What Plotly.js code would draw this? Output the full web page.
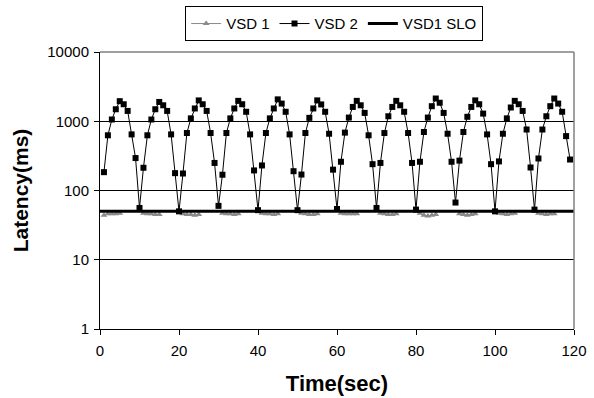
<!DOCTYPE html>
<html>
<head>
<meta charset="utf-8">
<script src="https://cdn.plot.ly/plotly-3.0.1.min.js"></script>
<style>html,body{margin:0;padding:0;background:#fff;}#chart{width:594px;height:398px;}</style>
</head>
<body>
<div id="chart"></div>
<script>
// VSD 2 latency (ms), one value per second, t = 1..119
const vsd2Latency = [
  184, 627, 1060, 1490, 1950, 1760, 1410, 646, 294, 56,
  213, 627, 1060, 1490, 1900, 1700, 1410, 646, 178, 50,
  176, 676, 1100, 1530, 2000, 1760, 1410, 676, 250, 60,
  169, 676, 1100, 1530, 1970, 1760, 1370, 646, 195, 52,
  230, 676, 1100, 1530, 2070, 1800, 1370, 646, 190, 52,
  170, 676, 1120, 1530, 2000, 1750, 1370, 660, 200, 54,
  260, 685, 1130, 1610, 1970, 1700, 1320, 627, 240, 56,
  250, 676, 1180, 1610, 1970, 1700, 1370, 676, 250, 53,
  260, 700, 1130, 1650, 2130, 1850, 1320, 660, 260, 67,
  270, 700, 1160, 1610, 2000, 1760, 1290, 646, 240, 50,
  263, 660, 1100, 1580, 1970, 1760, 1410, 760, 215, 53,
  290, 760, 1180, 1650, 2130, 1800, 1370, 610, 280
];
// VSD 1 latency (ms), same time base; null = no sample
const vsd1Latency = [
  44, 46, 46, 46, 47, null, null, null, null, null,
  47, 46, 46, 45, 45, null, null, null, null, null,
  46, 45, 45, 44, 45, null, null, null, null, null,
  47, 46, 46, 45, 46, null, null, null, null, null,
  47, 46, 46, 45, 46, null, null, null, null, null,
  47, 46, 45, 45, 46, null, null, null, null, null,
  47, 46, 46, 46, 46, null, null, null, null, null,
  47, 46, 45, 45, 46, null, null, null, null, null,
  47, 44, 43, 44, 45, null, null, null, null, null,
  46, 45, 44, 45, 46, null, null, null, null, null,
  47, 46, 45, 46, 47, null, null, null, null, null,
  47, 46, 45, 46, 46, null, null, null
];
// SLO for VSD1 (ms) across the whole run
const sloTime = [0, 120];
const sloLatency = [50, 50];

const yTickVals = [1, 10, 100, 1000, 10000];
const yTickText = ['1', '10', '100', '1000', '10000'];
const xTickVals = [0, 20, 40, 60, 80, 100, 120];

const time = vsd2Latency.map((_, i) => i + 1);

const FONT = 'Liberation Sans, Arial, sans-serif';

const traces = [
  {
    name: 'VSD 1', x: time, y: vsd1Latency, type: 'scatter', mode: 'lines+markers',
    connectgaps: false,
    line: {color: '#8a8a8a', width: 1},
    marker: {symbol: 'triangle-up', size: 6, color: '#8a8a8a'}
  },
  {
    name: 'VSD 2', x: time, y: vsd2Latency, type: 'scatter', mode: 'lines+markers',
    line: {color: '#000000', width: 1},
    marker: {symbol: 'square', size: 6, color: '#000000'}
  },
  {
    name: 'VSD1 SLO', x: sloTime, y: sloLatency, type: 'scatter', mode: 'lines',
    line: {color: '#000000', width: 3}
  }
];

const layout = {
  width: 594, height: 398,
  margin: {l: 100, r: 20, t: 52, b: 69, pad: 0, autoexpand: false},
  paper_bgcolor: '#ffffff', plot_bgcolor: '#ffffff',
  font: {family: FONT, size: 15, color: '#000'},
  showlegend: true,
  legend: {
    orientation: 'h', x: 0.494, xanchor: 'center', y: 1.165, yanchor: 'top',
    bordercolor: '#000', borderwidth: 1, bgcolor: '#fff',
    font: {family: FONT, size: 15, color: '#000'},
    traceorder: 'normal', itemwidth: 30, tracegroupgap: 0
  },
  xaxis: {
    range: [0, 120], tickvals: xTickVals, ticks: 'outside', ticklen: 5, tickcolor: '#000',
    showline: true, linecolor: '#000', linewidth: 1, showgrid: false, zeroline: false,
    tickfont: {family: FONT, size: 15}, ticklabelstandoff: 3,
    title: {text: 'Time(sec)', font: {family: FONT, size: 22, weight: 'bold'}, standoff: 17}
  },
  yaxis: {
    type: 'log', range: [0, 4], tickvals: yTickVals, ticktext: yTickText,
    ticks: 'outside', ticklen: 5, tickcolor: '#000',
    showline: true, linecolor: '#000', linewidth: 1,
    showgrid: true, gridcolor: '#000', gridwidth: 1, zeroline: false,
    tickfont: {family: FONT, size: 15}, ticklabelstandoff: 2,
    title: {text: 'Latency(ms)', font: {family: FONT, size: 21, weight: 'bold'}, standoff: 12}
  },
  shapes: [
    {type: 'line', xref: 'paper', yref: 'paper', x0: 0, x1: 1, y0: 1, y1: 1, line: {color: '#808080', width: 1.5}, layer: 'above'},
    {type: 'line', xref: 'paper', yref: 'paper', x0: 1, x1: 1, y0: 0, y1: 1, line: {color: '#808080', width: 1.5}, layer: 'above'}
  ]
};

Plotly.newPlot('chart', traces, layout, {displayModeBar: false, staticPlot: true});
</script>
</body>
</html>
